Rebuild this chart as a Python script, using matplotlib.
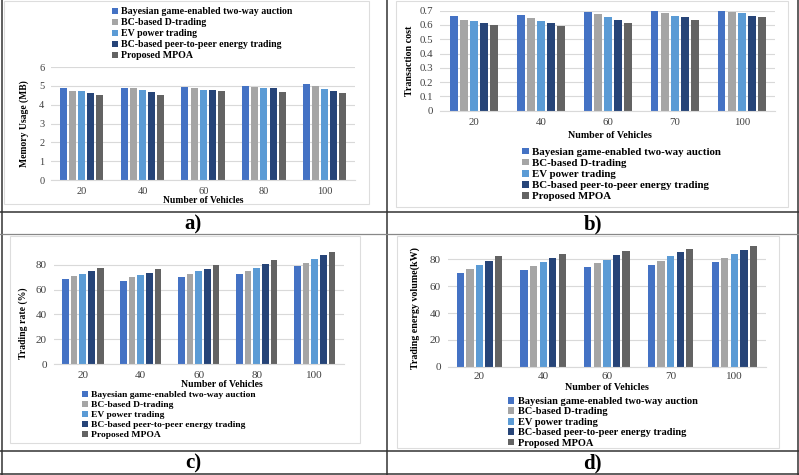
import matplotlib.pyplot as plt
from matplotlib.patches import Rectangle
from matplotlib.lines import Line2D

W, H = 799, 475

SERIES = [
    "Bayesian game-enabled two-way auction",
    "BC-based D-trading",
    "EV power trading",
    "BC-based peer-to-peer energy trading",
    "Proposed MPOA",
]
COLORS = ["#4472C4", "#A5A5A5", "#5B9BD5", "#264478", "#636363"]

# a) memory usage
vehicles_a = ["20", "40", "60", "80", "100"]
memory_bayes = [4.87, 4.90, 4.95, 4.98, 5.10]
memory_dtrade = [4.74, 4.86, 4.91, 4.95, 4.98]
memory_ev = [4.70, 4.80, 4.80, 4.88, 4.83]
memory_p2p = [4.63, 4.67, 4.77, 4.88, 4.75]
memory_mpoa = [4.52, 4.50, 4.71, 4.67, 4.60]

# b) transaction cost
vehicles_b = ["20", "40", "60", "70", "100"]
cost_bayes = [0.663, 0.670, 0.690, 0.700, 0.700]
cost_dtrade = [0.635, 0.651, 0.674, 0.682, 0.690]
cost_ev = [0.628, 0.628, 0.658, 0.665, 0.682]
cost_p2p = [0.614, 0.614, 0.635, 0.653, 0.665]
cost_mpoa = [0.600, 0.590, 0.614, 0.635, 0.658]

# c) trading rate
vehicles_c = ["20", "40", "60", "80", "100"]
rate_bayes = [68.2, 67.2, 70.0, 72.5, 78.7]
rate_dtrade = [71.0, 70.0, 72.6, 74.8, 81.8]
rate_ev = [72.6, 72.1, 74.8, 77.5, 84.7]
rate_p2p = [74.8, 73.8, 76.9, 80.7, 87.8]
rate_mpoa = [77.5, 76.9, 80.0, 83.8, 90.0]

# d) trading energy volume
vehicles_d = ["20", "40", "60", "70", "100"]
volume_bayes = [70.0, 72.0, 74.0, 76.0, 78.0]
volume_dtrade = [73.0, 75.0, 77.0, 79.0, 81.2]
volume_ev = [76.0, 78.0, 79.8, 82.2, 84.2]
volume_p2p = [78.8, 81.2, 83.2, 85.2, 87.0]
volume_mpoa = [82.2, 84.2, 86.2, 88.0, 90.0]

FONT = ["Liberation Serif", "DejaVu Serif"]
TICK_COLOR = "#404040"
GRID_COLOR = "#D9D9D9"


def px_rect(x0, y0, x1, y1):
    return [x0 / W, 1 - y1 / H, (x1 - x0) / W, (y1 - y0) / H]


def draw_panel(fig, rect, cats, series, ylim, yticks, ylabel, ylabel_xy, xlabel_xy,
               legend_xy, tick_size=7.5, label_size=7, legend_size=7, legend_spacing=0.2,
               xpad=5):
    ax = fig.add_axes(px_rect(*rect))
    ax.set_facecolor("none")
    width, step = 0.115, 0.15
    bars = []
    for i, vals in enumerate(series):
        xs = [j + (i - 2) * step for j in range(len(cats))]
        bars.append(ax.bar(xs, vals, width, color=COLORS[i], label=SERIES[i], zorder=3))
    ax.set_xlim(-0.5, len(cats) - 0.5)
    ax.set_ylim(*ylim)
    ax.set_xticks(range(len(cats)))
    ax.set_xticklabels(cats)
    ax.set_yticks(yticks)
    ax.set_yticklabels(["{:g}".format(t) for t in yticks])
    ax.tick_params(length=0, labelsize=tick_size, colors=TICK_COLOR, pad=5)
    ax.tick_params(axis="x", pad=xpad)
    for lbl in ax.get_xticklabels() + ax.get_yticklabels():
        lbl.set_family(FONT)
    ax.grid(axis="y", color=GRID_COLOR, lw=0.8, zorder=0)
    for s in ["top", "right", "left"]:
        ax.spines[s].set_visible(False)
    ax.spines["bottom"].set_color(GRID_COLOR)
    ax.spines["bottom"].set_zorder(4)

    ax.set_ylabel(ylabel, fontsize=label_size, fontweight="bold", family=FONT)
    ax.yaxis.set_label_coords(*ylabel_xy)
    ax.set_xlabel("Number of Vehicles", fontsize=label_size, fontweight="bold", family=FONT)
    ax.xaxis.set_label_coords(*xlabel_xy)
    ax.xaxis.label.set_va("center")

    fig.legend(handles=bars, loc="upper left",
               bbox_to_anchor=(legend_xy[0] / W, 1 - legend_xy[1] / H),
               frameon=False, borderpad=0, borderaxespad=0,
               handlelength=0.6, handleheight=0.6, handletextpad=0.35,
               labelspacing=legend_spacing,
               prop={"family": FONT, "weight": "bold", "size": legend_size})
    return ax


fig = plt.figure(figsize=(W / 100, H / 100), dpi=100)
fig.patch.set_facecolor("white")

# faint chart-area borders
for (x0, y0, x1, y1) in [(4, 1, 369, 204), (396, 1, 788, 207), (10, 236, 360, 443), (397, 236, 779, 448)]:
    fig.patches.append(Rectangle((x0 / W, 1 - y1 / H), (x1 - x0) / W, (y1 - y0) / H,
                                 transform=fig.transFigure, fill=False,
                                 edgecolor="#DDDDDD", lw=0.8, zorder=-1))

draw_panel(fig, (51.3, 67, 355.1, 180), vehicles_a,
           [memory_bayes, memory_dtrade, memory_ev, memory_p2p, memory_mpoa],
           (0, 6), range(0, 7), "Memory Usage (MB)",
           (-0.073, 0.5), (0.50, -0.18), (112, 7.5),
           tick_size=7.5, label_size=6.9, legend_size=7.1, legend_spacing=0.2)

draw_panel(fig, (440.3, 10.7, 775.2, 110.7), vehicles_b,
           [cost_bayes, cost_dtrade, cost_ev, cost_p2p, cost_mpoa],
           (0, 0.7), [0, 0.1, 0.2, 0.3, 0.4, 0.5, 0.6, 0.7], "Transaction cost",
           (-0.08, 0.5), (0.507, -0.253), (522, 147.5),
           tick_size=7.8, label_size=7.2, legend_size=7.8, legend_spacing=0.17)

draw_panel(fig, (53.8, 250, 343.7, 364), vehicles_c,
           [rate_bayes, rate_dtrade, rate_ev, rate_p2p, rate_mpoa],
           (0, 92), range(0, 81, 20), "Trading rate (%)",
           (-0.088, 0.355), (0.58, -0.184), (82, 391),
           tick_size=8, label_size=7, legend_size=6.8, legend_spacing=0.17)

draw_panel(fig, (447.6, 243.2, 766.2, 366.7), vehicles_d,
           [volume_bayes, volume_dtrade, volume_ev, volume_p2p, volume_mpoa],
           (0, 92), range(0, 81, 20), "Trading energy volume(kW)",
           (-0.087, 0.475), (0.50, -0.172), (508, 397),
           tick_size=8, label_size=7.2, legend_size=7.5, legend_spacing=0.14, xpad=4)

# table frame around the four panels
dark = "#333333"
for x in [1.5, 386.7, 797.5]:
    fig.add_artist(Line2D([x / W, x / W], [0, 1], color=dark, lw=1.1))
for y in [211.7, 451, 474]:
    fig.add_artist(Line2D([0, 1], [1 - y / H, 1 - y / H], color=dark, lw=1.1))
fig.add_artist(Line2D([0, 1], [1 - 234.3 / H, 1 - 234.3 / H], color="#888888", lw=0.9))

# captions
for label, x, y in [("a)", 193, 224), ("b)", 593, 224), ("c)", 193, 463), ("d)", 592, 463)]:
    fig.text(x / W, 1 - y / H, label, ha="center", va="center",
             fontsize=15, fontweight="bold", family=FONT)

plt.savefig("out.png", dpi=100)
